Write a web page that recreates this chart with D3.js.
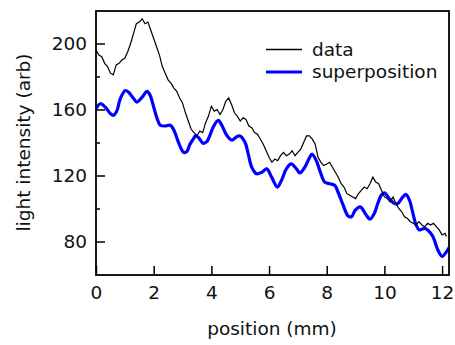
<!DOCTYPE html>
<html>
<head>
<meta charset="utf-8">
<script src="https://cdn.jsdelivr.net/npm/d3@7"></script>
<style>
    body { margin: 0; background: #fff; }
    text { font-family: "DejaVu Sans", sans-serif; fill: #111; }
</style>
</head>
<body>
<svg id="chart" width="455" height="345"></svg>
<script>

// measured data (black, jagged)
var dataPos = [0.0, 0.1, 0.2, 0.3, 0.4, 0.5, 0.6, 0.7, 0.8, 0.9,
    1.0, 1.1, 1.2, 1.3, 1.4, 1.5, 1.6, 1.7, 1.8, 1.9,
    2.0, 2.1, 2.2, 2.3, 2.4, 2.5, 2.6, 2.7, 2.8, 2.9,
    3.0, 3.1, 3.2, 3.3, 3.4, 3.5, 3.6, 3.7, 3.8, 3.9,
    4.0, 4.1, 4.2, 4.3, 4.4, 4.5, 4.6, 4.7, 4.8, 4.9,
    5.0, 5.1, 5.2, 5.3, 5.4, 5.5, 5.6, 5.7, 5.8, 5.9,
    6.0, 6.1, 6.2, 6.3, 6.4, 6.5, 6.6, 6.7, 6.8, 6.9,
    7.0, 7.1, 7.2, 7.3, 7.4, 7.5, 7.6, 7.7, 7.8, 7.9,
    8.0, 8.1, 8.2, 8.3, 8.4, 8.5, 8.6, 8.7, 8.8, 8.9,
    9.0, 9.1, 9.2, 9.3, 9.4, 9.5, 9.6, 9.7, 9.8, 9.9,
    10.0, 10.1, 10.2, 10.3, 10.4, 10.5, 10.6, 10.7, 10.8, 10.9,
    11.0, 11.1, 11.2, 11.3, 11.4, 11.5, 11.6, 11.7, 11.8, 11.9,
    12.0, 12.1, 12.15];
var dataVal = [196, 193, 192, 188, 186, 182, 181, 187, 188, 190,
    191, 195, 200, 206, 212, 213, 215, 212, 213, 208,
    203, 198, 193, 186, 182, 178, 176, 173, 171, 167,
    164, 158, 153, 148, 146, 144, 147, 146, 152, 156,
    162, 159, 160, 157, 160, 165, 167, 163, 158, 156,
    153, 155, 154, 150, 149, 146, 145, 142, 139, 135,
    131, 128, 130, 129, 132, 134, 132, 133, 135, 132,
    134, 136, 140, 144, 144, 142, 139, 131, 128, 126,
    127, 128, 125, 122, 119, 115, 113, 109, 108, 107,
    106, 109, 111, 113, 112, 115, 119, 116, 115, 111,
    107, 106, 104, 107, 103, 100, 98, 95, 94, 92,
    91, 90, 92, 90, 89, 91, 90, 91, 89, 87,
    84, 85, 83];

// superposition (blue, smooth)
var supPos = [0.0, 0.15, 0.32, 0.5, 0.61, 0.73, 0.84, 1.02, 1.13, 1.31,
    1.42, 1.6, 1.77, 1.88, 2.0, 2.12, 2.23, 2.4, 2.58, 2.7,
    2.81, 2.92, 3.04, 3.15, 3.26, 3.37, 3.45, 3.55, 3.72, 3.84,
    3.92, 4.07, 4.24, 4.36, 4.53, 4.71, 4.88, 4.99, 5.17, 5.28,
    5.4, 5.57, 5.75, 5.92, 6.09, 6.29, 6.43, 6.6, 6.77, 6.95,
    7.07, 7.24, 7.41, 7.49, 7.64, 7.76, 7.93, 8.11, 8.28, 8.39,
    8.57, 8.74, 8.86, 8.99, 9.16, 9.37, 9.5, 9.65, 9.77, 9.89,
    10.0, 10.17, 10.35, 10.46, 10.64, 10.75, 10.87, 10.99, 11.1, 11.21,
    11.39, 11.5, 11.68, 11.85, 12.0, 12.14, 12.25];
var supVal = [160.5, 163.5, 161.5, 157.5, 156.5, 159.5, 166.5, 171.5, 170.5, 166.5,
    164.5, 167.5, 171, 168.5, 161.5, 154.5, 150.5, 150, 150.5, 147.5,
    142.5, 137.5, 134, 134.5, 139, 142, 144, 143, 139.5, 140.5,
    143, 149.5, 153.5, 150.5, 144.5, 141.5, 143.5, 144, 140, 133,
    125, 121, 122, 124, 119, 113, 117, 124, 127, 124,
    121.5, 125, 131, 133, 129, 123, 116, 115, 114, 110,
    102, 95.5, 95, 99, 101, 96, 93.5, 97, 103, 108,
    109.5, 106, 103, 103, 107, 108.5, 105, 97, 90, 87,
    88, 87, 83, 75, 71, 73.5, 76.5];

var yMajor = [80, 120, 160, 200];
var yMinor = [100, 140, 180];
var xMajor = [0, 2, 4, 6, 8, 10, 12];

var legendNames = ['data', 'superposition'];
var legendColors = ['#000000', '#0000ff'];

// note: "top" is taken by window.top, so plot edges get their own names
var plotLeft = 96, plotRight = 449, plotTop = 11, plotBottom = 275;

var svg = d3.select('#chart');

var x = d3.scaleLinear().domain([0, 12.24]).range([plotLeft, plotRight]);
var y = d3.scaleLinear().domain([60, 220]).range([274.5, 10.5]);

svg.append('clipPath').attr('id', 'plotClip')
    .append('rect')
    .attr('x', plotLeft).attr('y', plotTop)
    .attr('width', plotRight - plotLeft).attr('height', plotBottom - plotTop);

var line = d3.line()
    .x(function (d) { return x(d[0]); })
    .y(function (d) { return y(d[1]); });

var blackPts = dataPos.map(function (p, i) { return [p, dataVal[i]]; });
var bluePts = supPos.map(function (p, i) { return [p, supVal[i]]; });

var plot = svg.append('g').attr('clip-path', 'url(#plotClip)');

plot.append('path')
    .datum(bluePts)
    .attr('d', line.curve(d3.curveCatmullRom.alpha(0.5)))
    .style('fill', 'none')
    .style('stroke', legendColors[1])
    .style('stroke-width', 3.2)
    .style('stroke-linejoin', 'round');

plot.append('path')
    .datum(blackPts)
    .attr('d', line.curve(d3.curveLinear))
    .style('fill', 'none')
    .style('stroke', legendColors[0])
    .style('stroke-width', 1.2);

// axes, ticks point inward
var yAxis = svg.append('g')
    .attr('transform', 'translate(' + plotLeft + ',0)')
    .call(d3.axisLeft(y).tickValues(yMajor).tickSizeInner(-9).tickSizeOuter(0).tickPadding(9));
var yAxisMinor = svg.append('g')
    .attr('transform', 'translate(' + plotLeft + ',0)')
    .call(d3.axisLeft(y).tickValues(yMinor).tickSizeInner(-4).tickSizeOuter(0).tickFormat(''));
var xAxis = svg.append('g')
    .attr('transform', 'translate(0,' + plotBottom + ')')
    .call(d3.axisBottom(x).tickValues(xMajor).tickSizeInner(-9).tickSizeOuter(0).tickPadding(11));

[yAxis, yAxisMinor, xAxis].forEach(function (g) {
    g.select('.domain').remove();
    g.selectAll('line').style('stroke', '#000').style('stroke-width', 1.5);
    g.selectAll('text')
        .style('font-family', '"DejaVu Sans", sans-serif')
        .style('font-size', '18.5px')
        .attr('fill', '#111');
});

svg.append('rect')
    .attr('x', plotLeft).attr('y', plotTop)
    .attr('width', plotRight - plotLeft).attr('height', plotBottom - plotTop)
    .style('fill', 'none')
    .style('stroke', '#000')
    .style('stroke-width', 1.8);

// axis titles
svg.append('text')
    .attr('x', 272)
    .attr('y', 335)
    .attr('text-anchor', 'middle')
    .style('font-size', '18.5px')
    .text('position (mm)');

svg.append('text')
    .attr('transform', 'translate(30,142.5) rotate(-90)')
    .attr('text-anchor', 'middle')
    .style('font-size', '18.5px')
    .text('light intensity (arb)');

// legend
var legend = svg.append('g');
legendNames.forEach(function (name, i) {
    var ly = 49.5 + i * 22.5;
    legend.append('line')
        .attr('x1', 266).attr('x2', 302)
        .attr('y1', ly).attr('y2', ly)
        .style('stroke', legendColors[i])
        .style('stroke-width', i === 0 ? 1.4 : 3.2);
    legend.append('text')
        .attr('x', 312)
        .attr('y', ly)
        .attr('dy', '0.35em')
        .style('font-size', '18.5px')
        .text(name);
});

</script>
</body>
</html>
